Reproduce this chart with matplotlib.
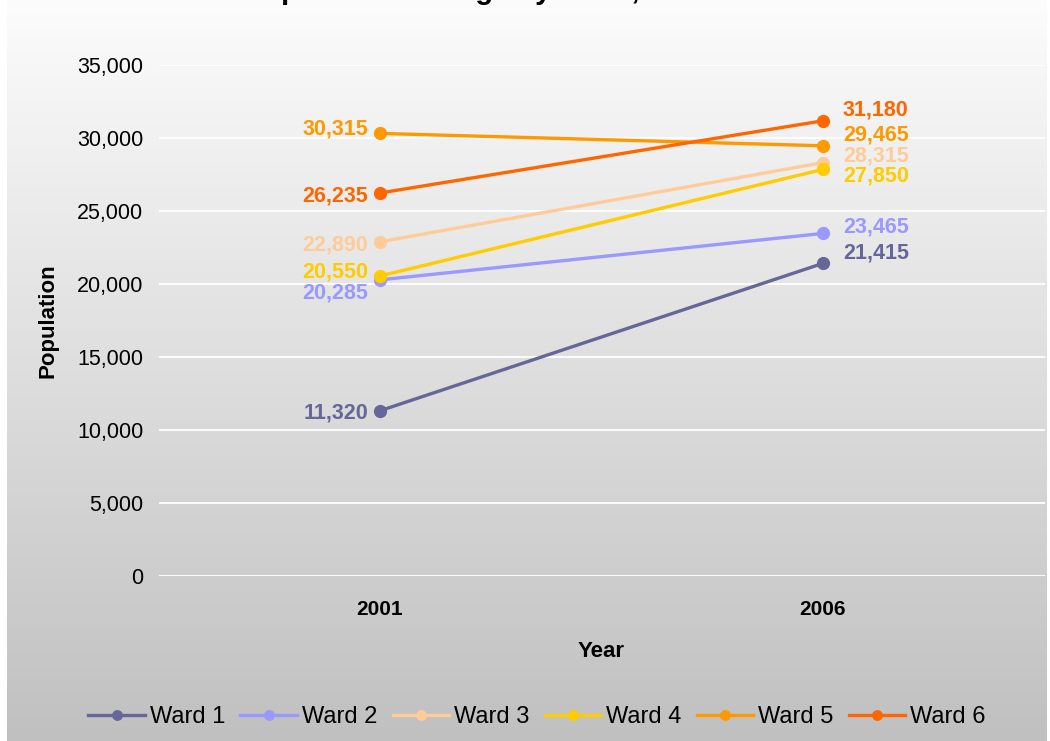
import numpy as np
import matplotlib.pyplot as plt

plt.rcParams['font.family'] = ['Liberation Sans', 'DejaVu Sans']

# data
years = ["2001", "2006"]
wards = ["Ward 1", "Ward 2", "Ward 3", "Ward 4", "Ward 5", "Ward 6"]
pop_2001 = [11320, 20285, 22890, 20550, 30315, 26235]
pop_2006 = [21415, 23465, 28315, 27850, 29465, 31180]
colors = ["#666699", "#9999FF", "#FFCC99", "#FFCC00", "#FF9900", "#FF6600"]

# label nudges (pixels, up is positive) so the labels don't collide
nudge_2001 = [-2, -13, -3, 4, 4, -3]
nudge_2006 = [10, 6, 7, -7, 11, 11]

fig = plt.figure(figsize=(10.5, 7.41), dpi=100)
fig.patch.set_facecolor("white")

# gradient background
bg = fig.add_axes([7 / 1050, 0, 1040 / 1050, 1], zorder=-1)
grad = np.linspace(252, 192, 256).reshape(-1, 1) / 255.0
bg.imshow(np.dstack([grad, grad, grad]), aspect="auto", extent=[0, 1, 0, 1])
bg.axis("off")

ax = fig.add_axes([158.5 / 1050, 165 / 741, 886 / 1050, 511 / 741])
ax.set_facecolor("none")

x = np.arange(len(years))
for i, w in enumerate(wards):
    vals = [pop_2001[i], pop_2006[i]]
    ax.plot(x, vals, color=colors[i], lw=2.4, marker="o", ms=8.5, label=w, zorder=3)
    ax.annotate(f"{pop_2001[i]:,}", (x[0], pop_2001[i]), xytext=(-12, nudge_2001[i]),
                textcoords="offset pixels", ha="right", va="center",
                fontsize=15.5, fontweight="bold", color=colors[i])
    ax.annotate(f"{pop_2006[i]:,}", (x[1], pop_2006[i]), xytext=(20, nudge_2006[i]),
                textcoords="offset pixels", ha="left", va="center",
                fontsize=15.5, fontweight="bold", color=colors[i])

ax.set_xlim(-0.5, 1.5)
ax.set_ylim(0, 35000)
ax.set_yticks(np.arange(0, 35001, 5000))
ax.set_yticklabels([f"{v:,}" for v in range(0, 35001, 5000)])
ax.set_xticks(x)
ax.set_xticklabels(years, fontweight="bold")
ax.tick_params(axis="y", length=0, pad=11, labelsize=15.5)
ax.tick_params(axis="x", length=0, pad=17, labelsize=15)
ax.grid(axis="y", color="white", lw=1.3)
ax.set_axisbelow(True)
for s in ax.spines.values():
    s.set_visible(False)

ax.set_ylabel("Population", fontsize=16, fontweight="bold", labelpad=13)
ax.set_xlabel("Year", fontsize=16, fontweight="bold", labelpad=16)

# title is mostly cut off at the top in the reference
fig.text(244 / 1050, 1 + 1 / 741, "Population Change by Ward, 2001 - 2006",
         ha="left", va="baseline", fontsize=21, fontweight="bold")

ax.legend(loc="center", bbox_to_anchor=((537 - 158.5) / 886, (24 - 165) / 511), ncol=6,
          frameon=False, fontsize=17, handlelength=2.4, handletextpad=0.2,
          columnspacing=0.65, markerscale=0.8)

fig.savefig("out.png", dpi=100)
